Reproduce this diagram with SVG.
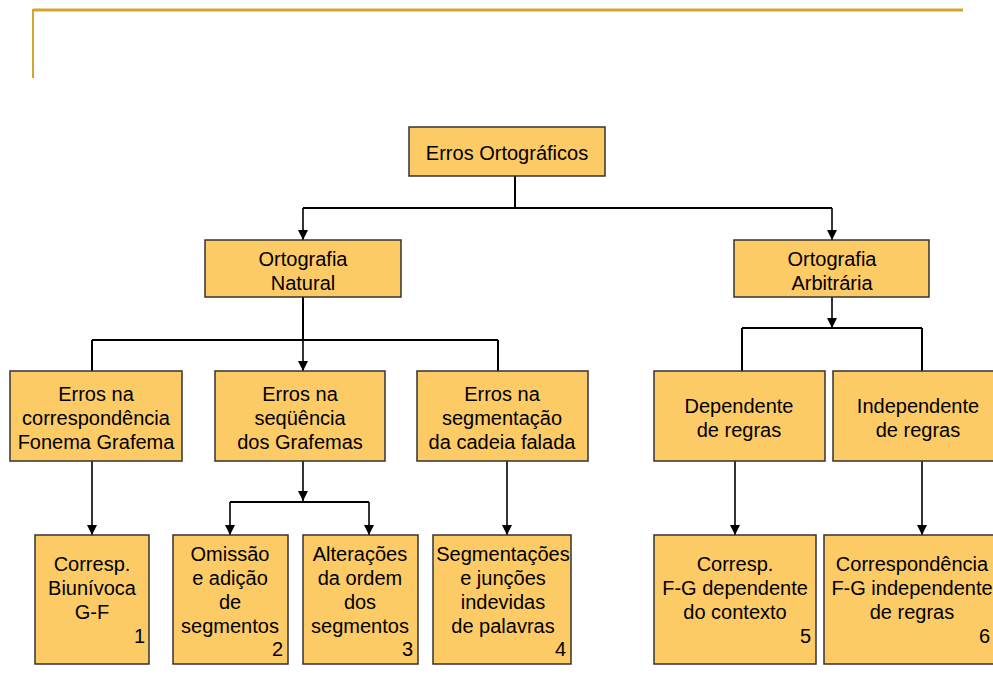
<svg xmlns="http://www.w3.org/2000/svg" width="993" height="677" viewBox="0 0 993 677">
<defs>
<marker id="ah" viewBox="0 0 10 10" refX="10" refY="5" markerWidth="10" markerHeight="10" markerUnits="userSpaceOnUse" orient="auto">
<path d="M0,0 L10,5 L0,10 z" fill="#000"/>
</marker>
<style>
.box{fill:#FDCB66;stroke:#333;stroke-width:1.5}
.t{font-family:"Liberation Sans",Arial,sans-serif;font-size:20px;fill:#000;text-anchor:middle}
.n{font-family:"Liberation Sans",Arial,sans-serif;font-size:20px;fill:#000;text-anchor:end}
.c{fill:none;stroke:#000;stroke-width:2}
.ca{fill:none;stroke:#000;stroke-width:1.6;marker-end:url(#ah)}
</style>
</defs>
<rect width="993" height="677" fill="#fff"/>
<g id="frame">
<line x1="33" y1="10" x2="963" y2="10" stroke="#D4A52C" stroke-width="3"/>
<line x1="33" y1="9" x2="33" y2="78" stroke="#D4A52C" stroke-width="2"/>
</g>
<g id="connectors">
<path class="c" d="M515,176 V208 M303,208 H832"/>
<path class="ca" d="M303,208 V240"/>
<path class="ca" d="M832,208 V240"/>
<path class="c" d="M303,297 V340 M92,340 H498 M92,340 V371 M498,340 V371"/>
<path class="ca" d="M303,340 V371"/>
<path class="ca" d="M832,297 V328"/>
<path class="c" d="M742,328 H922 M742,328 V371 M922,328 V371"/>
<path class="ca" d="M92,461 V535"/>
<path class="ca" d="M303,461 V501"/>
<path class="c" d="M230,502 H369"/>
<path class="ca" d="M230,502 V535"/>
<path class="ca" d="M369,502 V535"/>
<path class="ca" d="M507,461 V535"/>
<path class="ca" d="M735,461 V535"/>
<path class="ca" d="M922,461 V535"/>
</g>
<g id="root">
<rect class="box" x="409" y="127" width="196" height="49"/>
<text class="t" x="507" y="160">Erros Ortográficos</text>
</g>
<g id="natural">
<rect class="box" x="205" y="240" width="196" height="57"/>
<text class="t" x="303" y="266">Ortografia</text>
<text class="t" x="303" y="290">Natural</text>
</g>
<g id="arbitraria">
<rect class="box" x="734" y="240" width="195" height="57"/>
<text class="t" x="832" y="266">Ortografia</text>
<text class="t" x="832" y="290">Arbitrária</text>
</g>
<g id="corr">
<rect class="box" x="10" y="371" width="172" height="90"/>
<text class="t" x="96" y="401">Erros na</text>
<text class="t" x="96" y="425">correspondência</text>
<text class="t" x="96" y="449">Fonema Grafema</text>
</g>
<g id="seq">
<rect class="box" x="215" y="371" width="170" height="90"/>
<text class="t" x="300" y="401">Erros na</text>
<text class="t" x="300" y="425">seqüência</text>
<text class="t" x="300" y="449">dos Grafemas</text>
</g>
<g id="segm">
<rect class="box" x="417" y="371" width="171" height="90"/>
<text class="t" x="502" y="401">Erros na</text>
<text class="t" x="502" y="425">segmentação</text>
<text class="t" x="502" y="449">da cadeia falada</text>
</g>
<g id="dep">
<rect class="box" x="654" y="371" width="171" height="90"/>
<text class="t" x="739" y="413">Dependente</text>
<text class="t" x="739" y="437">de regras</text>
</g>
<g id="indep">
<rect class="box" x="833" y="371" width="172" height="90"/>
<text class="t" x="918" y="413">Independente</text>
<text class="t" x="918" y="437">de regras</text>
</g>
<g id="n1">
<rect class="box" x="35" y="535" width="114" height="129"/>
<text class="t" x="92" y="571">Corresp.</text>
<text class="t" x="92" y="595">Biunívoca</text>
<text class="t" x="92" y="619">G-F</text>
<text class="n" x="145" y="643">1</text>
</g>
<g id="n2">
<rect class="box" x="173" y="535" width="115" height="129"/>
<text class="t" x="230" y="561">Omissão</text>
<text class="t" x="230" y="585">e adição</text>
<text class="t" x="230" y="609">de</text>
<text class="t" x="230" y="633">segmentos</text>
<text class="n" x="283" y="656">2</text>
</g>
<g id="n3">
<rect class="box" x="303" y="535" width="115" height="129"/>
<text class="t" x="360" y="561">Alterações</text>
<text class="t" x="360" y="585">da ordem</text>
<text class="t" x="360" y="609">dos</text>
<text class="t" x="360" y="633">segmentos</text>
<text class="n" x="413" y="656">3</text>
</g>
<g id="n4">
<rect class="box" x="433" y="535" width="138" height="129"/>
<text class="t" x="503" y="561">Segmentações</text>
<text class="t" x="503" y="585">e junções</text>
<text class="t" x="503" y="609">indevidas</text>
<text class="t" x="503" y="633">de palavras</text>
<text class="n" x="566" y="656">4</text>
</g>
<g id="n5">
<rect class="box" x="654" y="535" width="162" height="129"/>
<text class="t" x="735" y="571">Corresp.</text>
<text class="t" x="735" y="595">F-G dependente</text>
<text class="t" x="735" y="619">do contexto</text>
<text class="n" x="811" y="643">5</text>
</g>
<g id="n6">
<rect class="box" x="824" y="535" width="180" height="129"/>
<text class="t" x="912" y="571">Correspondência</text>
<text class="t" x="912" y="595">F-G independente</text>
<text class="t" x="912" y="619">de regras</text>
<text class="n" x="990" y="643">6</text>
</g>
</svg>
